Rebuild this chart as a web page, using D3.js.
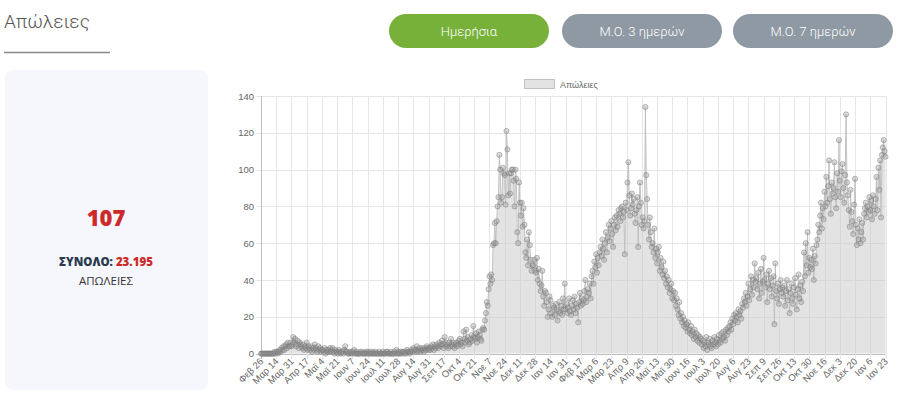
<!DOCTYPE html>
<html>
<head>
<meta charset="utf-8">
<script src="https://cdn.jsdelivr.net/npm/d3@7"></script>
<style>
  html, body { margin: 0; padding: 0; background: #fff; }
  svg { display: block; }
</style>
</head>
<body>
<svg id="chart" width="900" height="414"></svg>
<script>
// ---------- data ----------
const startDate = "2020-02-26";
const seriesName = "Απώλειες";
const deaths = [
  // Feb 2020
  0,0,0,0,
  // Mar 2020
  0,0,0,0,0,0,0,0,0,0,0,1,0,1,1,0,1,2,1,3,2,4,2,4,5,3,6,4,4,6,4,
  // Apr 2020
  5,9,6,8,4,5,7,3,6,5,4,3,5,2,4,3,6,2,4,3,2,4,1,3,2,5,3,2,1,4,
  // May 2020
  2,3,1,2,2,1,3,0,2,1,2,1,3,1,2,3,1,0,2,1,1,0,2,1,0,1,1,0,2,4,1,
  // Jun 2020
  1,0,0,1,0,1,0,1,2,0,0,1,0,0,0,1,0,1,0,0,0,1,0,1,0,0,1,0,0,1,
  // Jul 2020
  0,0,1,0,0,0,1,0,0,0,1,0,0,0,1,1,0,0,0,1,0,0,0,1,0,2,0,1,0,0,1,
  // Aug 2020
  0,1,1,0,1,0,2,1,1,0,1,2,1,3,2,1,2,4,1,2,3,1,2,3,2,1,3,2,4,3,2,
  // Sep 2020
  3,2,4,3,5,2,4,3,5,4,3,6,4,5,7,5,3,9,6,4,5,3,6,4,8,5,4,6,3,5,
  // Oct 2020
  6,4,5,7,8,5,6,4,12,8,6,13,7,9,5,6,8,10,7,15,9,8,11,6,9,12,10,8,7,13,14,
  // Nov 2020
  13,18,22,28,26,35,42,38,43,40,59,60,71,60,72,80,85,108,100,82,85,101,98,97,81,121,111,86,98,87,
  // Dec 2020
  98,100,100,94,80,100,95,66,60,93,82,75,82,69,79,70,55,52,62,48,66,59,51,45,48,48,51,45,44,52,40,
  // Jan 2021
  46,38,34,37,45,31,26,34,33,28,20,24,31,29,22,20,26,25,21,27,24,18,23,28,22,26,21,30,24,38,24,
  // Feb 2021
  27,22,25,30,23,21,26,29,24,31,22,27,25,17,28,33,26,30,27,29,34,40,28,31,35,33,38,30,
  // Mar 2021
  42,45,38,50,47,54,44,52,48,55,58,53,62,57,51,60,66,55,63,70,61,68,72,65,58,70,74,67,75,69,78,
  // Apr 2021
  76,72,79,80,74,77,54,82,78,93,104,86,75,79,87,81,84,76,71,78,85,58,80,93,82,70,74,68,72,134,
  // May 2021
  97,84,70,62,74,66,58,60,55,68,52,57,49,55,58,45,52,47,43,50,41,45,38,42,36,40,33,35,38,30,34,
  // Jun 2021
  29,33,26,30,24,21,28,19,22,17,20,15,18,14,16,12,17,13,11,15,10,12,8,13,9,11,7,10,6,9,
  // Jul 2021
  8,5,7,3,6,4,9,2,6,5,8,4,3,7,5,9,6,4,8,5,10,7,6,11,8,12,9,7,13,10,14,
  // Aug 2021
  12,15,17,13,19,16,21,18,22,20,17,24,21,23,19,27,25,30,28,33,26,31,38,29,35,42,32,40,36,49,39,
  // Sep 2021
  41,35,44,30,38,46,33,39,52,40,36,43,28,38,45,35,41,31,37,42,16,49,34,30,38,27,35,40,33,36,
  // Oct 2021
  31,37,26,34,40,29,35,22,33,38,30,27,36,41,32,24,35,43,30,37,28,39,34,55,42,60,48,66,44,52,47,
  // Nov 2021
  51,46,57,40,53,49,59,62,70,66,75,82,68,79,73,88,80,96,82,91,105,84,76,93,87,90,104,85,79,98,
  // Dec 2021
  88,116,94,85,99,103,90,82,97,130,93,86,78,69,89,77,72,65,81,95,70,59,68,62,73,60,66,71,62,76,79,
  // Jan 2022
  82,74,80,77,85,78,83,73,86,80,76,84,96,78,101,89,105,74,108,112,116,110,107
];
const tickLabels = [
  "Φεβ 26","Μαρ 14","Μαρ 31","Απρ 17","Μαϊ 4","Μαϊ 21","Ιουν 7","Ιουν 24","Ιουλ 11","Ιουλ 28",
  "Αυγ 14","Αυγ 31","Σεπ 17","Οκτ 4","Οκτ 21","Νοε 7","Νοε 24","Δεκ 11","Δεκ 28","Ιαν 14",
  "Ιαν 31","Φεβ 17","Μαρ 6","Μαρ 23","Απρ 9","Απρ 26","Μαϊ 13","Μαϊ 30","Ιουν 16","Ιουλ 3",
  "Ιουλ 20","Αυγ 6","Αυγ 23","Σεπ 9","Σεπ 26","Οκτ 13","Οκτ 30","Νοε 16","Δεκ 3","Δεκ 20",
  "Ιαν 6","Ιαν 23"
];
const tickStep = 17;
const yTicks = [0,20,40,60,80,100,120,140];
const buttons = ["Ημερήσια","Μ.Ο. 3 ημερών","Μ.Ο. 7 ημερών"];
const pageTitle = "Απώλειες";
const latestValue = "107";
const totalLabel = "ΣΥΝΟΛΟ:";
const totalValue = "23.195";
const totalUnit = "ΑΠΩΛΕΙΕΣ";

// ---------- drawing ----------
const svg = d3.select("#chart");

// title
svg.append("text").attr("x", 4).attr("y", 28)
  .attr("font-family", "Roboto").attr("font-weight", 300).attr("font-size", 19)
  .attr("fill", "#555").text(pageTitle);
svg.append("line").attr("x1", 4).attr("x2", 110).attr("y1", 52.5).attr("y2", 52.5)
  .attr("stroke", "#8a8a8a").attr("stroke-width", 1.5);

// buttons
const btnX = [389, 562, 733];
const btnW = 160;
buttons.forEach((b, i) => {
  svg.append("rect").attr("x", btnX[i]).attr("y", 14).attr("width", btnW).attr("height", 34)
    .attr("rx", 17).attr("fill", i === 0 ? "#78b13a" : "#8f99a3");
  svg.append("text").attr("x", btnX[i] + btnW / 2).attr("y", 35.5)
    .attr("text-anchor", "middle").attr("font-family", "Roboto").attr("font-weight", 300)
    .attr("font-size", 13).attr("fill", "#fff").text(b);
});

// left card
svg.append("rect").attr("x", 5).attr("y", 70).attr("width", 203).attr("height", 320)
  .attr("rx", 8).attr("fill", "#f5f7fc");
svg.append("text").attr("x", 106).attr("y", 226).attr("text-anchor", "middle")
  .attr("font-family", "Open Sans").attr("font-weight", 800).attr("font-size", 22)
  .attr("fill", "#cc2a2a").text(latestValue);
const tot = svg.append("text").attr("x", 106).attr("y", 266).attr("text-anchor", "middle")
  .attr("font-family", "Open Sans").attr("font-weight", 800).attr("font-size", 11.5);
tot.append("tspan").attr("fill", "#2b3a4e").text(totalLabel + " ");
tot.append("tspan").attr("fill", "#cc2a2a").text(totalValue);
svg.append("text").attr("x", 106).attr("y", 285).attr("text-anchor", "middle")
  .attr("font-family", "Open Sans").attr("font-weight", 400).attr("font-size", 11.5)
  .attr("fill", "#333").text(totalUnit);

// chart
const x = d3.scaleLinear().domain([0, deaths.length - 1]).range([261, 885.5]);
const y = d3.scaleLinear().domain([0, 140]).range([353.6, 96]);
const g = svg.append("g");

// horizontal grid
g.selectAll(".hg").data(yTicks).join("line")
  .attr("x1", 256).attr("x2", 885.5)
  .attr("y1", d => Math.round(y(d)) + 0.5).attr("y2", d => Math.round(y(d)) + 0.5)
  .attr("stroke", d => d === 0 ? "#bdbdbd" : "#e6e6e6").attr("stroke-width", 1);
// vertical grid at tick labels
const tickIdx = tickLabels.map((_, i) => i * tickStep);
g.selectAll(".vg").data(tickIdx).join("line")
  .attr("x1", d => Math.round(x(d)) + 0.5).attr("x2", d => Math.round(x(d)) + 0.5)
  .attr("y1", 96).attr("y2", 359)
  .attr("stroke", (d, i) => i === 0 ? "#bdbdbd" : "#e6e6e6").attr("stroke-width", 1);

// y labels
g.selectAll(".yl").data(yTicks).join("text")
  .attr("x", 254).attr("y", d => y(d) + 3.5).attr("text-anchor", "end")
  .attr("font-family", "Liberation Sans, Arial").attr("font-size", 9.5)
  .attr("fill", "#666").text(d => d);

// x labels
g.selectAll(".xl").data(tickLabels).join("text")
  .attr("transform", (d, i) => `translate(${x(i * tickStep) + 3},${362}) rotate(-45)`)
  .attr("text-anchor", "end")
  .attr("font-family", "Liberation Sans, Arial").attr("font-size", 9.5)
  .attr("fill", "#666").text(d => d);

// area
const area = d3.area().x((d, i) => x(i)).y0(y(0)).y1(d => y(d));
g.append("path").datum(deaths).attr("d", area).attr("fill", "rgba(200,200,200,0.5)");
const line = d3.line().x((d, i) => x(i)).y(d => y(d));
g.append("path").datum(deaths).attr("d", line).attr("fill", "none")
  .attr("stroke", "rgba(190,190,190,0.9)").attr("stroke-width", 1);
g.selectAll(".pt").data(deaths).join("circle")
  .attr("cx", (d, i) => x(i)).attr("cy", d => y(d)).attr("r", 2.6)
  .attr("fill", "rgba(150,150,150,0.35)").attr("stroke", "rgba(120,120,120,0.45)")
  .attr("stroke-width", 1);

// legend
svg.append("rect").attr("x", 524.5).attr("y", 79.5).attr("width", 30).attr("height", 9)
  .attr("fill", "rgba(200,200,200,0.5)").attr("stroke", "rgba(190,190,190,0.9)");
svg.append("text").attr("x", 560).attr("y", 87.5)
  .attr("font-family", "Liberation Sans, Arial").attr("font-size", 9)
  .attr("fill", "#666").text(seriesName);
</script>
</body>
</html>
